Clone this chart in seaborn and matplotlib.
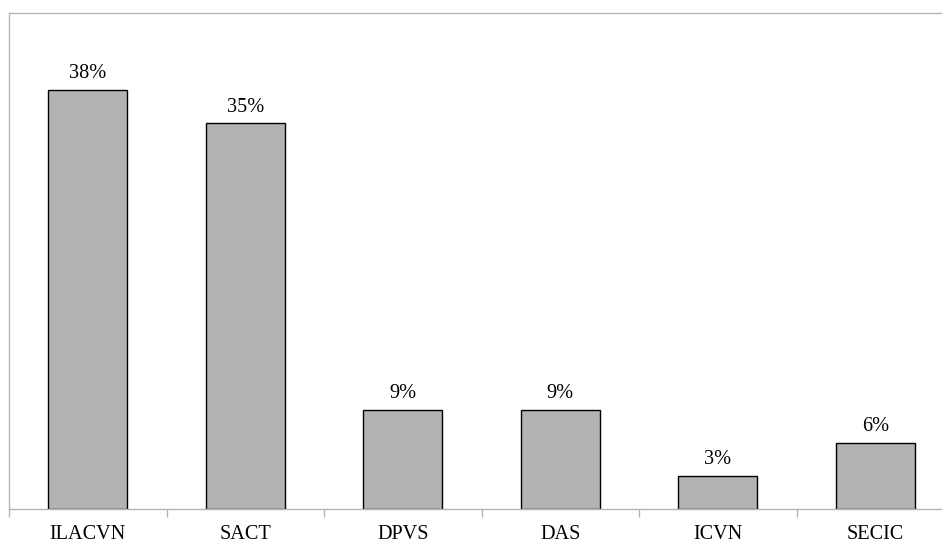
import matplotlib
matplotlib.use("Agg")
import matplotlib.pyplot as plt
import seaborn as sns
import pandas as pd

categories = ["ILACVN", "SACT", "DPVS", "DAS", "ICVN", "SECIC"]
shares = [38, 35, 9, 9, 3, 6]

sns.set_theme(style="white")
plt.rcParams["font.family"] = ["Liberation Serif", "DejaVu Serif"]

df = pd.DataFrame({"category": categories, "share": shares})

W, H = 942, 544
fig = plt.figure(figsize=(W / 100, H / 100), dpi=100)
left, top, bottom, right = 9, 13.3, 509, 954
ax = fig.add_axes([left / W, 1 - bottom / H, (right - left) / W, (bottom - top) / H])

sns.barplot(data=df, x="category", y="share", ax=ax, color="#b3b3b3",
            edgecolor="black", linewidth=1.0, width=0.5, saturation=1)

ax.set_ylim(0, 45)
ax.set_xlim(-0.5, len(categories) - 0.5)

for cont in ax.containers:
    ax.bar_label(cont, labels=[f"{v}%" for v in shares], padding=5,
                 fontsize=14.6, color="black")

spine_color = "#b5b5b5"
for side in ["left", "top", "bottom"]:
    ax.spines[side].set_visible(True)
    ax.spines[side].set_color(spine_color)
    ax.spines[side].set_linewidth(1.0)
ax.spines["right"].set_visible(False)

ax.set_yticks([])
ax.set_xticks([i - 0.5 for i in range(len(categories) + 1)], minor=False)
ax.set_xticklabels([])
ax.set_xticks(range(len(categories)), minor=True)
ax.set_xticklabels(categories, minor=True, fontsize=14.6, color="black")
ax.tick_params(axis="x", which="major", direction="out", length=5.8,
               width=1.0, color=spine_color, bottom=True)
ax.tick_params(axis="x", which="minor", length=0, pad=11.6)
ax.set_xlabel("")
ax.set_ylabel("")

fig.savefig("out.png", dpi=100)
